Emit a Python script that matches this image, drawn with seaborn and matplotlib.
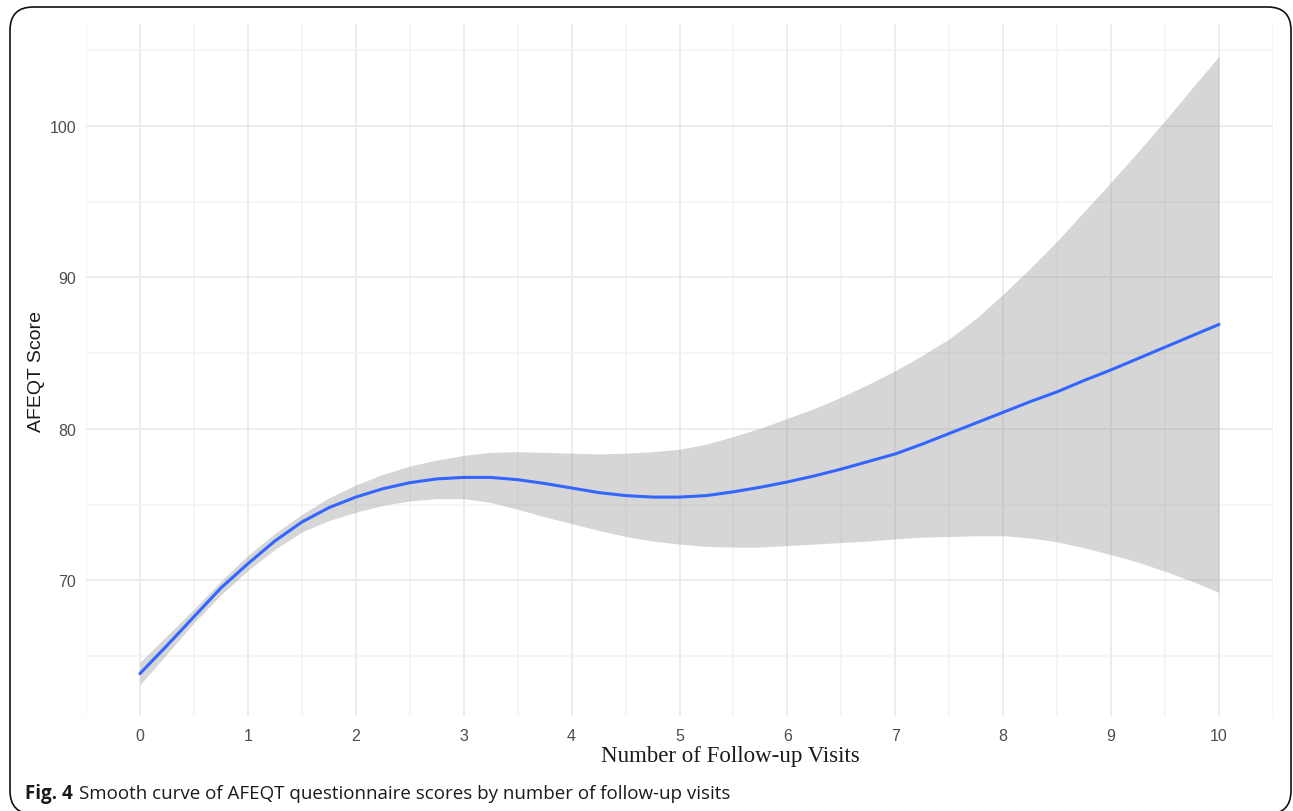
import matplotlib
matplotlib.use("Agg")
import matplotlib.pyplot as plt
from matplotlib.patches import FancyBboxPatch
from matplotlib.ticker import MultipleLocator
import pandas as pd
import seaborn as sns

# Smoothed AFEQT score by number of follow-up visits, with confidence band
visits = [0, 0.25, 0.5, 0.75, 1, 1.25, 1.5, 1.75, 2, 2.25, 2.5, 2.75, 3, 3.25, 3.5,
          3.75, 4, 4.25, 4.5, 4.75, 5, 5.25, 5.5, 5.75, 6, 6.25, 6.5, 6.75, 7, 7.25,
          7.5, 7.75, 8, 8.25, 8.5, 8.75, 9, 9.25, 9.5, 9.75, 10]
fit = [63.85, 65.7, 67.6, 69.5, 71.1, 72.6, 73.85, 74.8, 75.5, 76.05, 76.45, 76.7,
       76.8, 76.8, 76.65, 76.4, 76.1, 75.8, 75.6, 75.5, 75.5, 75.6, 75.85, 76.15,
       76.5, 76.9, 77.35, 77.85, 78.35, 79.0, 79.7, 80.4, 81.1, 81.8, 82.45, 83.2,
       83.9, 84.65, 85.4, 86.15, 86.9]
upper = [64.6, 66.35, 68.1, 69.95, 71.65, 73.1, 74.35, 75.45, 76.3, 77.0, 77.55, 77.95,
         78.25, 78.45, 78.5, 78.45, 78.4, 78.35, 78.4, 78.5, 78.65, 79.0, 79.5, 80.05,
         80.7, 81.35, 82.1, 82.95, 83.85, 84.85, 85.95, 87.3, 88.9, 90.6, 92.4, 94.35,
         96.3, 98.3, 100.35, 102.5, 104.6]
lower = [63.1, 65.15, 67.2, 69.05, 70.65, 72.05, 73.2, 73.95, 74.5, 74.95, 75.25, 75.4,
         75.4, 75.15, 74.7, 74.2, 73.75, 73.3, 72.9, 72.6, 72.4, 72.25, 72.2, 72.2,
         72.3, 72.4, 72.5, 72.6, 72.75, 72.85, 72.9, 72.95, 72.95, 72.8, 72.55, 72.15,
         71.7, 71.2, 70.6, 69.95, 69.2]
x_ticks = [0, 1, 2, 3, 4, 5, 6, 7, 8, 9, 10]
y_ticks = [70, 80, 90, 100]

df = pd.DataFrame({"visits": visits, "fit": fit, "upper": upper, "lower": lower})

sns.set_theme(style="white")
plt.rcParams["font.family"] = ["Liberation Sans", "DejaVu Sans"]

W, H = 1293, 812
fig = plt.figure(figsize=(W / 100, H / 100), dpi=100)
ax = fig.add_axes([86 / W, 1 - 717 / H, (1273 - 86) / W, (717 - 25) / H])

# grid (major + minor, minimal theme look)
ax.set_xlim(-0.5, 10.5)
ax.set_ylim(61.05, 106.73)
ax.set_xticks(x_ticks)
ax.set_yticks(y_ticks)
ax.xaxis.set_minor_locator(MultipleLocator(0.5))
ax.yaxis.set_minor_locator(MultipleLocator(5))
ax.grid(which="major", color="#EBEBEB", linewidth=1.3)
ax.grid(which="minor", color="#F3F3F3", linewidth=1.1)
ax.set_axisbelow(True)
for s in ax.spines.values():
    s.set_visible(False)
ax.tick_params(which="both", length=0)
ax.tick_params(axis="x", pad=9, labelsize=11.5, labelcolor="#4D4D4D")
ax.tick_params(axis="y", pad=7, labelsize=11.5, labelcolor="#4D4D4D")

# confidence band and smooth line
ax.fill_between(df["visits"], df["lower"], df["upper"], color="#999999", alpha=0.4,
                linewidth=0, zorder=2)
sns.lineplot(data=df, x="visits", y="fit", ax=ax, color="#3366FF", linewidth=2.2,
             zorder=3)

ax.set_xlabel("Number of Follow-up Visits", family=["Liberation Serif"], fontsize=16.5,
              color="#1A1A1A", va="center")
ax.xaxis.set_label_coords(0.5425, -0.0578)
ax.set_ylabel("AFEQT Score", fontsize=14, color="#1A1A1A", va="center")
ax.yaxis.set_label_coords(-0.0421, 0.4986)

# caption
cap_y = 1 - 794 / H
t1 = fig.text(25 / W, cap_y, "Fig. 4", family=["Open Sans"], fontweight="bold",
              fontsize=13.5, va="center", ha="left", color="#1A1A1A")
fig.canvas.draw()
bb = t1.get_window_extent()
fig.text((bb.x1 + 6) / W, cap_y,
         "Smooth curve of AFEQT questionnaire scores by number of follow-up visits",
         family=["Open Sans"], fontsize=13.5, va="center", ha="left", color="#1A1A1A")

# rounded frame around the figure
frame = FancyBboxPatch((10 / W, -3 / H), (1291 - 10) / W, (H - 8 + 3) / H,
                       boxstyle="round,pad=0,rounding_size=0.018",
                       transform=fig.transFigure, facecolor="none",
                       edgecolor="#111111", linewidth=1.2, mutation_aspect=W / H)
fig.patches.append(frame)

fig.savefig("out.png", dpi=100)
